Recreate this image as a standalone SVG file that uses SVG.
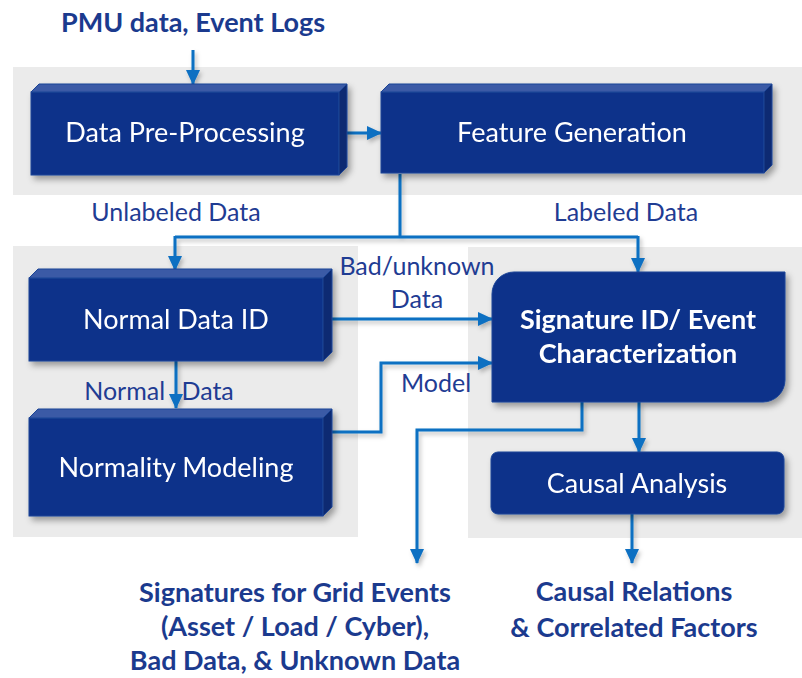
<svg xmlns="http://www.w3.org/2000/svg" width="802" height="678" viewBox="0 0 802 678">
<style>
.panel{fill:#ebebeb}
.front{fill:#0c308a;stroke:#1c4596;stroke-width:1}
.top{fill:#3b5aa6;stroke:#1c4596;stroke-width:1}
.side{fill:#082a72;stroke:#1c4596;stroke-width:1}
.box{filter:url(#sh)}
.t{font-family:Lato,"Open Sans",sans-serif;fill:#ffffff;text-anchor:middle;font-size:27px}
.lbl{font-family:Lato,"Open Sans",sans-serif;fill:#1f3c93;text-anchor:middle;font-size:25px}
.big{font-family:Lato,"Open Sans",sans-serif;fill:#1b3a8e;text-anchor:middle;font-weight:bold;font-size:27px}
.c{fill:none;stroke:#0a6fc2;stroke-width:3}
</style>
<defs>
<filter id="sh" x="-10%" y="-10%" width="130%" height="140%">
<feDropShadow dx="3" dy="4" stdDeviation="3" flood-color="#000" flood-opacity="0.35"/>
</filter>
<filter id="lsh" x="-10%" y="-10%" width="130%" height="130%">
<feDropShadow dx="2" dy="3" stdDeviation="2" flood-color="#000" flood-opacity="0.25"/>
</filter>
<marker id="ah" markerUnits="userSpaceOnUse" markerWidth="16" markerHeight="16" viewBox="0 0 16 16" refX="14" refY="8" orient="auto">
<path d="M0,1 L15,8 L0,15 Z" fill="#0a6fc2"/>
</marker>
</defs>

<g id="panels">
<rect class="panel" x="13" y="67" width="789" height="128"/>
<rect class="panel" x="13" y="246" width="345" height="291"/>
<rect class="panel" x="468" y="247" width="334" height="291"/>
</g>

<text class="big" x="193" y="32">PMU data, Event Logs</text>

<g id="connectors" filter="url(#lsh)">
<path class="c" d="M193,50 V84" marker-end="url(#ah)"/>
<path class="c" d="M339,133 H381" marker-end="url(#ah)"/>
<path class="c" d="M400,174 V237 M175,237 H638"/>
<path class="c" d="M175,236 V270" marker-end="url(#ah)"/>
<path class="c" d="M638,236 V272" marker-end="url(#ah)"/>
<path class="c" d="M323,319 H492" marker-end="url(#ah)"/>
<path class="c" d="M176,361 V408" marker-end="url(#ah)"/>
<path class="c" d="M332,432 H381 V363 H492" marker-end="url(#ah)"/>
<path class="c" d="M582,402 V430 H417 V563" marker-end="url(#ah)"/>
<path class="c" d="M639,402 V452" marker-end="url(#ah)"/>
<path class="c" d="M632,514 V563" marker-end="url(#ah)"/>
</g>

<g id="n-preprocessing" class="box">
<rect class="front" x="31" y="92" width="308" height="83"/>
<polygon class="top" points="31,92 39,84 347,84 339,92"/>
<polygon class="side" points="339,92 347,84 347,167 339,175"/>
<text class="t" x="185" y="142">Data Pre-Processing</text>
</g>

<g id="n-feature" class="box">
<rect class="front" x="381" y="92" width="383" height="81"/>
<polygon class="top" points="381,92 389,84 772,84 764,92"/>
<polygon class="side" points="764,92 772,84 772,165 764,173"/>
<text class="t" x="572" y="142">Feature Generation</text>
</g>

<g id="n-normalid" class="box">
<rect class="front" x="29" y="278" width="294" height="83"/>
<polygon class="top" points="29,278 38,269 332,269 323,278"/>
<polygon class="side" points="323,278 332,269 332,352 323,361"/>
<text class="t" x="176" y="329">Normal Data ID</text>
</g>

<g id="n-normality" class="box">
<rect class="front" x="29" y="418" width="294" height="98"/>
<polygon class="top" points="29,418 38,409 332,409 323,418"/>
<polygon class="side" points="323,418 332,409 332,507 323,516"/>
<text class="t" x="176" y="477">Normality Modeling</text>
</g>

<g id="n-signature" class="box">
<path class="front" d="M492,294 A22,22 0 0 1 514,272 H785 V380 A22,22 0 0 1 763,402 H492 Z"/>
<text class="t" x="638" y="329" font-weight="bold">Signature ID/ Event</text>
<text class="t" x="638" y="363" font-weight="bold">Characterization</text>
</g>

<g id="n-causal" class="box">
<rect class="front" x="491" y="452" width="293" height="62" rx="7"/>
<text class="t" x="637" y="493">Causal Analysis</text>
</g>

<g id="labels">
<text class="lbl" x="176" y="221">Unlabeled Data</text>
<text class="lbl" x="626" y="221">Labeled Data</text>
<text class="lbl" x="417" y="275">Bad/unknown</text>
<text class="lbl" x="417" y="308">Data</text>
<text class="lbl" x="436" y="392">Model</text>
<text class="lbl" x="159" y="400" word-spacing="10">Normal Data</text>
</g>

<g id="outputs">
<text class="big" x="295" y="602">Signatures for Grid Events</text>
<text class="big" x="295" y="636">(Asset / Load / Cyber),</text>
<text class="big" x="295" y="670">Bad Data, &amp; Unknown Data</text>
<text class="big" x="634" y="601">Causal Relations</text>
<text class="big" x="634" y="637">&amp; Correlated Factors</text>
</g>
</svg>
